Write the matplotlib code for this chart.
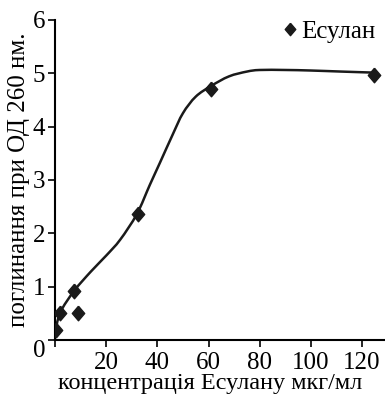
import matplotlib.pyplot as plt
from matplotlib.path import Path
from matplotlib.patches import PathPatch

plt.rcParams['font.family'] = ['Liberation Serif', 'DejaVu Serif']

# виміряні точки
conc = [0.4, 2, 7.5, 8.8, 32.3, 61, 124.8]
absorb = [0.19, 0.51, 0.92, 0.5, 2.36, 4.70, 4.97]

# згладжена крива (опорні точки)
curve_x = [0, 2, 7.5, 14, 20, 25.5, 32, 37, 41, 46, 50, 55, 61, 68, 75, 80, 90, 100, 112, 125]
curve_y = [0.12, 0.51, 0.92, 1.28, 1.58, 1.88, 2.36, 2.9, 3.32, 3.85, 4.25, 4.56, 4.76, 4.94, 5.03, 5.06, 5.06, 5.05, 5.03, 5.01]

xticks = [0, 20, 40, 60, 80, 100, 120]
xticklabels = ['', '20', '40', '60', '80', '100', '120']
yticks = [0, 1, 2, 3, 4, 5, 6]

diamond = [(0, 1), (0.85, 0), (0, -1), (-0.85, 0), (0, 1)]

fig = plt.figure(figsize=(3.85, 3.97), dpi=100)
ax = fig.add_axes([0.143, 0.144, 0.857, 0.806])

# Catmull-Rom -> кубічні Безьє, щоб лінія була гладкою
pts = list(zip(curve_x, curve_y))
verts = [pts[0]]
codes = [Path.MOVETO]
for i in range(len(pts) - 1):
    p0 = pts[i - 1] if i > 0 else pts[i]
    p1 = pts[i]
    p2 = pts[i + 1]
    p3 = pts[i + 2] if i + 2 < len(pts) else pts[i + 1]
    c1 = (p1[0] + (p2[0] - p0[0]) / 6, p1[1] + (p2[1] - p0[1]) / 6)
    c2 = (p2[0] - (p3[0] - p1[0]) / 6, p2[1] - (p3[1] - p1[1]) / 6)
    verts += [c1, c2, p2]
    codes += [Path.CURVE4] * 3
ax.add_patch(PathPatch(Path(verts, codes), fill=False, edgecolor='#1a1a1a', lw=1.8, zorder=2))

ax.plot(conc, absorb, ls='none', marker=diamond, ms=10.5, color='#1a1a1a', label='Есулан', zorder=3)

ax.set_xlim(0, 129)
ax.set_ylim(0, 6)
ax.set_xticks(xticks)
ax.set_xticklabels(xticklabels)
ax.set_yticks(yticks)
ax.tick_params(axis='both', labelsize=18, direction='out', length=5, width=1.2)
ax.tick_params(axis='x', pad=4)
ax.tick_params(axis='y', pad=2)
ax.get_yticklabels()[0].set_va('top')

for s in ['top', 'right']:
    ax.spines[s].set_visible(False)
for s in ['left', 'bottom']:
    ax.spines[s].set_linewidth(1.5)

ax.set_xlabel('концентрація Есулану мкг/мл', fontsize=17.5)
ax.xaxis.set_label_coords(0.47, -0.155)
ax.xaxis.label.set_va('baseline')
ax.set_ylabel('поглинання при ОД 260 нм.', fontsize=18, labelpad=2)

ax.legend(loc='upper right', frameon=False, fontsize=18, handlelength=0.5,
          handletextpad=0.2, borderaxespad=0.0, markerscale=0.85,
          bbox_to_anchor=(1.0, 1.03))

fig.savefig('out.png', dpi=100)
